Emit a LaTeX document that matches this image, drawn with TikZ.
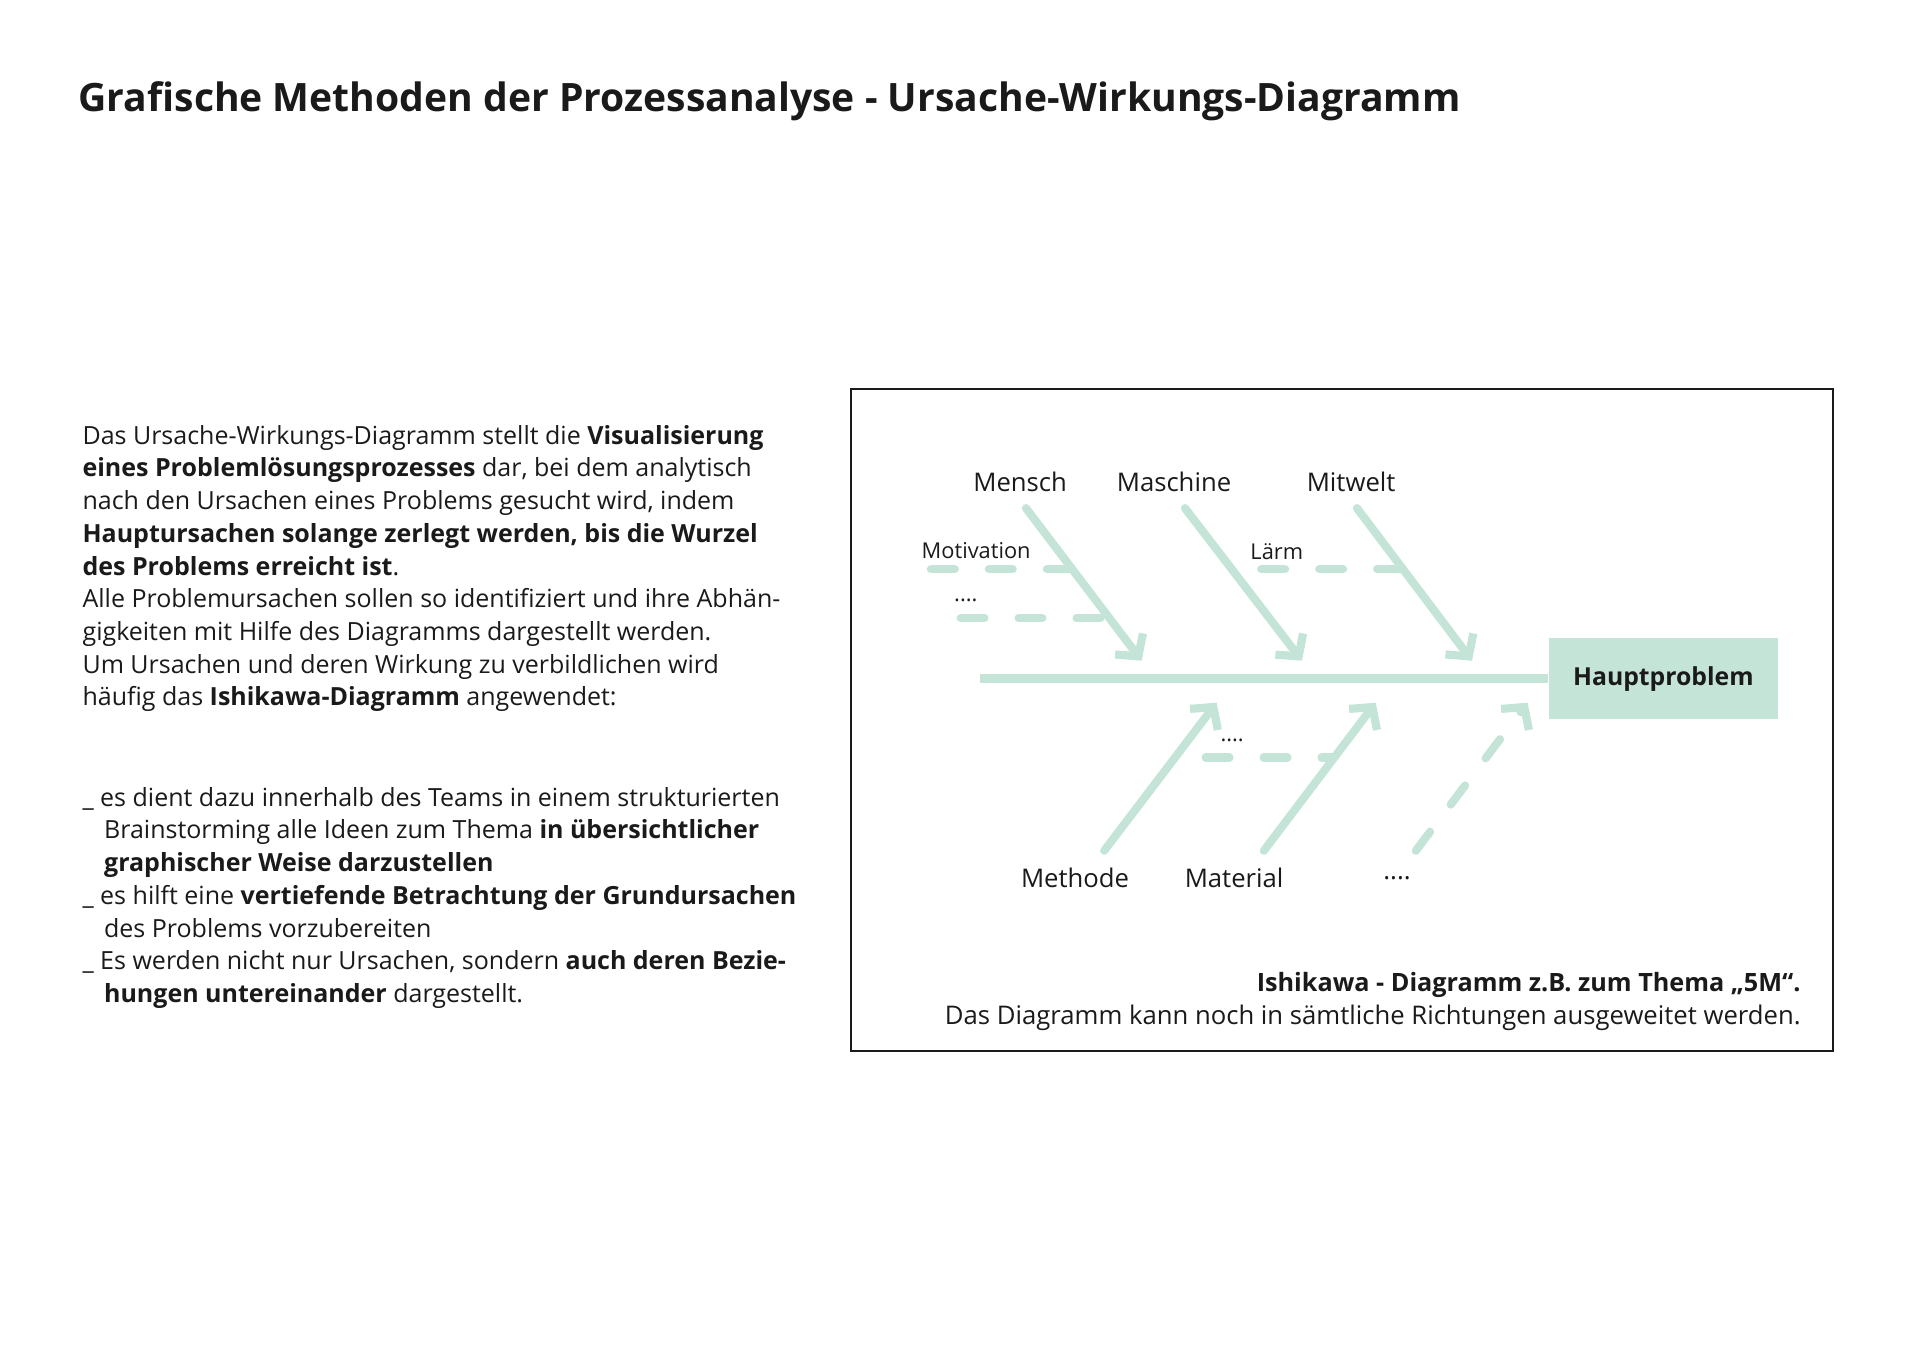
\documentclass[tikz,border=0pt]{standalone}
\usepackage{fontspec}
\setmainfont{Open Sans}
\usetikzlibrary{positioning,arrows.meta,calc}
\definecolor{mint}{RGB}{196,228,216}
\definecolor{ink}{RGB}{26,26,26}
\tikzset{
  spine/.style={line width=4pt,draw=mint},
  bone/.style={line width=3.6pt,draw=mint,line cap=round,
    -{Straight Barb[length=2.4mm,width=5.4mm]}},
  dbone/.style={bone,dash pattern=on 10.5pt off 15pt},      % open-ended main cause
  subbone/.style={line width=3.6pt,draw=mint,line cap=round,
    dash pattern=on 10.5pt off 15pt},                        % sub cause
  cause/.style={font=\fontsize{11.3}{13}\selectfont,text=ink,inner sep=1pt},
  subcause/.style={font=\fontsize{9.6}{11}\selectfont,text=ink,inner sep=1pt},
  effect/.style={fill=mint,minimum width=3.54cm,minimum height=1.25cm,inner sep=0pt,
    font=\bfseries\fontsize{10.9}{13}\selectfont,text=ink},
  txt/.style={align=left,inner sep=0pt,text=ink,font=\fontsize{11}{14.4}\selectfont},
  frame/.style={draw=ink,line width=0.9pt},
}

\begin{document}
\begin{tikzpicture}
  \useasboundingbox (0,0) rectangle (29.7,21);
  % heading
  \node[anchor=base west,inner sep=0pt,text=ink,font=\bfseries\fontsize{17.2}{20}\selectfont]
    (title) at (1.21,19.28)
    {Grafische Methoden der Prozessanalyse - Ursache-Wirkungs-Diagramm};
  % left column
  \node[txt,anchor=north west] (intro) at (1.27,14.43)
    {Das Ursache-Wirkungs-Diagramm stellt die \textbf{Visualisierung}\\
     \textbf{eines Problemlösungsprozesses} dar, bei dem analytisch\\
     nach den Ursachen eines Problems gesucht wird, indem\\
     \textbf{Hauptursachen solange zerlegt werden, bis die Wurzel}\\
     \textbf{des Problems erreicht ist}.\\
     Alle Problemursachen sollen so identifiziert und ihre Abhän-\\
     gigkeiten mit Hilfe des Diagramms dargestellt werden.\\
     Um Ursachen und deren Wirkung zu verbildlichen wird\\
     häufig das \textbf{Ishikawa-Diagramm} angewendet:};
  \node[txt,anchor=north west] (bullets) at (1.27,8.83)
    {\_ es dient dazu innerhalb des Teams in einem strukturierten\\
     \hspace*{9.5pt}Brainstorming alle Ideen zum Thema \textbf{in übersichtlicher}\\
     \hspace*{9.5pt}\textbf{graphischer Weise darzustellen}\\
     \_ es hilft eine \textbf{vertiefende Betrachtung der Grundursachen}\\
     \hspace*{9.5pt}des Problems vorzubereiten\\
     \_ Es werden nicht nur Ursachen, sondern \textbf{auch deren Bezie-}\\
     \hspace*{9.5pt}\textbf{hungen untereinander} dargestellt.};
  % frame round the diagram
  \draw[frame] (13.16,14.98) rectangle (28.35,4.74);
  % effect and spine
  \node[effect] (haupt) at (25.73,10.50) {Hauptproblem};
  \coordinate (tail) at (15.16,10.50);
  \draw[spine] (tail) -- (haupt.west);
  % upper main causes
  \coordinate (mensch-s) at (15.87,13.14);   \coordinate (mensch-e) at (17.66,10.78);
  \coordinate (masch-s)  at (18.33,13.14);   \coordinate (masch-e)  at (20.14,10.78);
  \coordinate (mitw-s)   at (20.99,13.14);   \coordinate (mitw-e)   at (22.77,10.78);
  \draw[bone] (mensch-s) -- (mensch-e);
  \draw[bone] (masch-s) -- (masch-e);
  \draw[bone] (mitw-s) -- (mitw-e);
  \node[cause] (mensch) at (15.78,13.54) {Mensch};
  \node[cause] (masch) at (18.16,13.54) {Maschine};
  \node[cause] (mitw) at (20.90,13.54) {Mitwelt};
  % lower main causes
  \coordinate (meth-s) at (17.08,7.84);   \coordinate (meth-e) at (18.82,10.13);
  \coordinate (mat-s)  at (19.55,7.84);   \coordinate (mat-e)  at (21.28,10.13);
  \coordinate (more-s) at (21.90,7.84);   \coordinate (more-e) at (23.63,10.13);
  \draw[bone] (meth-s) -- (meth-e);
  \draw[bone] (mat-s) -- (mat-e);
  \draw[dbone] (more-s) -- (more-e);
  \node[cause] (meth) at (16.63,7.42) {Methode};
  \node[cause] (mat) at (19.09,7.42) {Material};
  \node[cause] (more) at (21.61,7.42) {....};
  % sub causes
  \coordinate (motiv) at ($(mensch-s)!0.40!(mensch-e)$);
  \coordinate (mdots) at ($(mensch-s)!0.72!(mensch-e)$);
  \coordinate (laerm) at ($(mitw-s)!0.40!(mitw-e)$);
  \coordinate (matdots) at ($(mat-s)!0.63!(mat-e)$);
  \draw[subbone] (14.40,0 |- motiv) -- (motiv);
  \draw[subbone] (14.86,0 |- mdots) -- (mdots);
  \draw[subbone] (19.51,0 |- laerm) -- (laerm);
  \draw[subbone] (18.65,0 |- matdots) -- (matdots);
  \node[subcause] (motiv-l) at (15.10,12.49) {Motivation};
  \node[subcause] (mdots-l) at (14.94,11.72) {....};
  \node[subcause] (laerm-l) at (19.75,12.46) {Lärm};
  \node[subcause] (matdots-l) at (19.06,9.54) {....};
  % caption
  \node[anchor=base east,inner sep=0pt,text=ink,font=\bfseries\fontsize{11.1}{14}\selectfont]
    (capa) at (27.86,5.66) {Ishikawa - Diagramm z.B. zum Thema „5M“.};
  \node[anchor=base east,inner sep=0pt,text=ink,font=\fontsize{11.3}{14}\selectfont]
    (capb) at (27.86,5.15) {Das Diagramm kann noch in sämtliche Richtungen ausgeweitet werden.};
\end{tikzpicture}
\end{document}
